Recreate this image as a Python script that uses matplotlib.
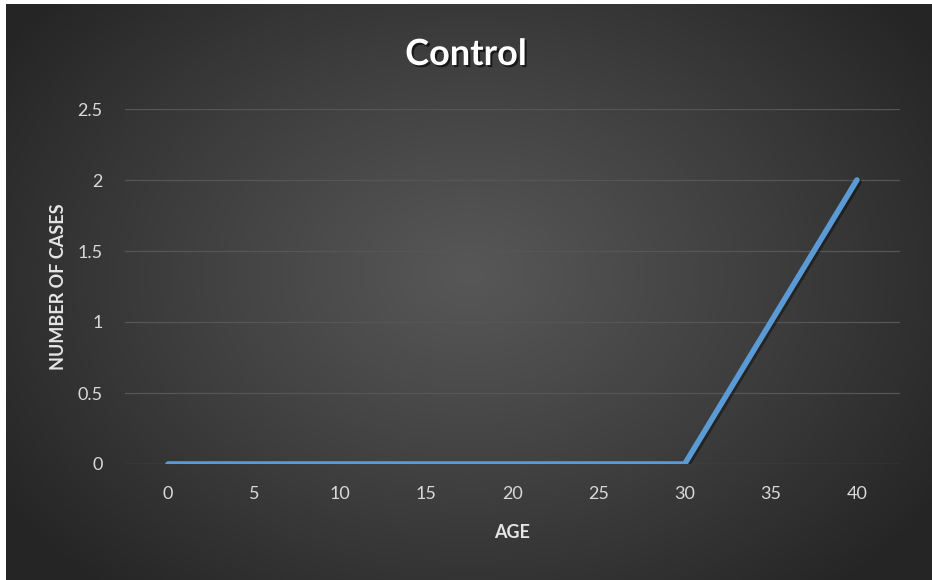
import numpy as np
import matplotlib
matplotlib.use("Agg")
import matplotlib.pyplot as plt
import matplotlib.patheffects as pe

# data
ages = [0, 5, 10, 15, 20, 25, 30, 35, 40]
cases = [0, 0, 0, 0, 0, 0, 0, 1, 2]
yticks = [0, 0.5, 1, 1.5, 2, 2.5]
ytick_labels = ['0', '0.5', '1', '1.5', '2', '2.5']

plt.rcParams['font.family'] = ['Lato', 'DejaVu Sans']

W, H = 932, 580
fig = plt.figure(figsize=(W / 100, H / 100), dpi=100, facecolor='white')

# dark radial background, leaving a thin white margin top and left
bg = fig.add_axes([6 / W, 0, 1 - 6 / W, 1 - 4 / H])
bg.set_axis_off()
yy, xx = np.mgrid[0:576, 0:926]
cx, cy = 463, 270
r = np.sqrt(((xx - cx) / 560.0) ** 2 + ((yy - cy) / 420.0) ** 2)
r = np.clip(r, 0, 1)
inner, outer = 0x57, 0x25
shade = (inner + (outer - inner) * r ** 1.1) / 255.0
img = np.dstack([shade, shade, shade])
bg.imshow(img, aspect='auto', interpolation='bilinear')

ax = fig.add_axes([125 / W, 116 / H, (900 - 125) / W, (464 - 109) / H])
ax.patch.set_alpha(0)
for s in ax.spines.values():
    s.set_visible(False)

ax.plot(ages, cases, color='#5b9bd5', lw=4.0, solid_capstyle='round',
        solid_joinstyle='miter', zorder=3,
        path_effects=[pe.SimpleLineShadow(offset=(1.5, -1.5), shadow_color='black', alpha=0.4),
                      pe.Normal()])

ax.set_xlim(-2.5, 42.5)
ax.set_ylim(0, 2.5)
ax.set_yticks(yticks)
ax.set_yticklabels(ytick_labels)
ax.set_xticks(ages)
ax.grid(axis='y', color='#565656', lw=0.9)
ax.set_axisbelow(True)
ax.tick_params(length=0, colors='#d9d9d9', labelsize=13)
ax.tick_params(axis='y', pad=16)
ax.tick_params(axis='x', pad=16)

ax.set_xlabel('AGE', color='#e6e6e6', fontsize=13, fontweight='bold', labelpad=16)
ax.set_ylabel('NUMBER OF CASES', color='#e6e6e6', fontsize=13, fontweight='bold', labelpad=8)

fig.text(466 / W, 1 - 65 / H, 'Control', ha='center', va='baseline', color='white',
         fontsize=26, fontweight='bold',
         path_effects=[pe.SimplePatchShadow(offset=(1.5, -1.5), shadow_rgbFace='black', alpha=0.6),
                       pe.Normal()])

fig.savefig('out.png', dpi=100, facecolor='white')
